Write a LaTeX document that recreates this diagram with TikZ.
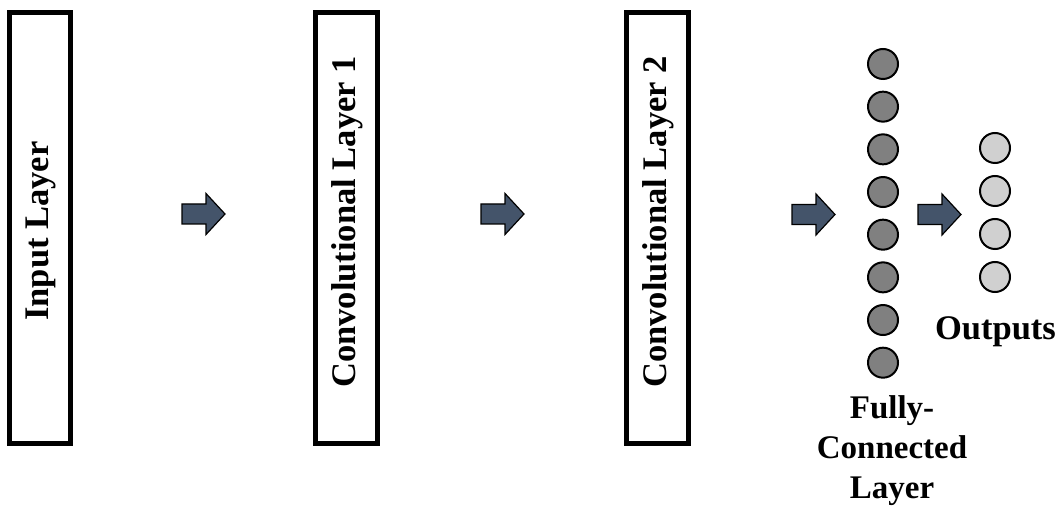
\documentclass[tikz,border=0pt]{standalone}
\usepackage{fontspec}
\setmainfont{Liberation Serif}
\definecolor{arrowfill}{HTML}{44546A}
\definecolor{fcfill}{HTML}{808080}
\definecolor{outfill}{HTML}{D0D0D0}
\tikzset{
  layerbox/.style={draw=black, line width=5pt, fill=white, inner sep=0pt,
    minimum height=431pt},
  layertext/.style={rotate=90, font=\fontsize{34.5}{40}\selectfont\bfseries, inner sep=0pt},
  caption/.style={font=\fontsize{33}{40}\selectfont\bfseries, align=center, inner sep=0pt},
  neuron/.style={circle, draw=black, line width=2pt, minimum size=30pt, inner sep=0pt},
  fcneuron/.style={neuron, fill=fcfill},
  outneuron/.style={neuron, fill=outfill},
  blockarrow/.pic={
    \draw[fill=arrowfill, draw=black, line width=1.2pt, line join=miter]
      (0,-10) -- (24,-10) -- (24,-20.5) -- (43,0) -- (24,20.5) -- (24,10) -- (0,10) -- cycle;
  }
}
\begin{document}
\begin{tikzpicture}[x=1pt,y=-1pt]
  \useasboundingbox (0,0) rectangle (1058,510);

  % layer boxes
  \node[layerbox, minimum width=61pt] (input) at (40,228) {};
  \node[layerbox, minimum width=62pt] (conv1) at (346.5,228) {};
  \node[layerbox, minimum width=62pt] (conv2) at (657.5,228) {};

  \node[layertext] (inputtxt) at (40.5,231) {Input Layer};
  \node[layertext] (conv1txt) at (347,222) {Convolutional Layer 1};
  \node[layertext] (conv2txt) at (658,222) {Convolutional Layer 2};

  % block arrows between the stages
  \pic at (182,214) {blockarrow};
  \pic at (481,214) {blockarrow};
  \pic at (792,214.5) {blockarrow};
  \pic at (918,214.5) {blockarrow};

  % fully-connected layer
  \foreach \i in {0,...,7} {
    \node[fcneuron] (fc\i) at (883,{64+42.67*\i}) {};
  }
  \node[caption] (fclabel) at (892,451) {Fully-\\Connected\\Layer};

  % outputs
  \foreach \i in {0,...,3} {
    \node[outneuron] (out\i) at (995,{148+43*\i}) {};
  }
  \node[caption, font=\fontsize{34.5}{40}\selectfont\bfseries, anchor=base] (outlabel) at (995.5,340) {Outputs};
\end{tikzpicture}
\end{document}
